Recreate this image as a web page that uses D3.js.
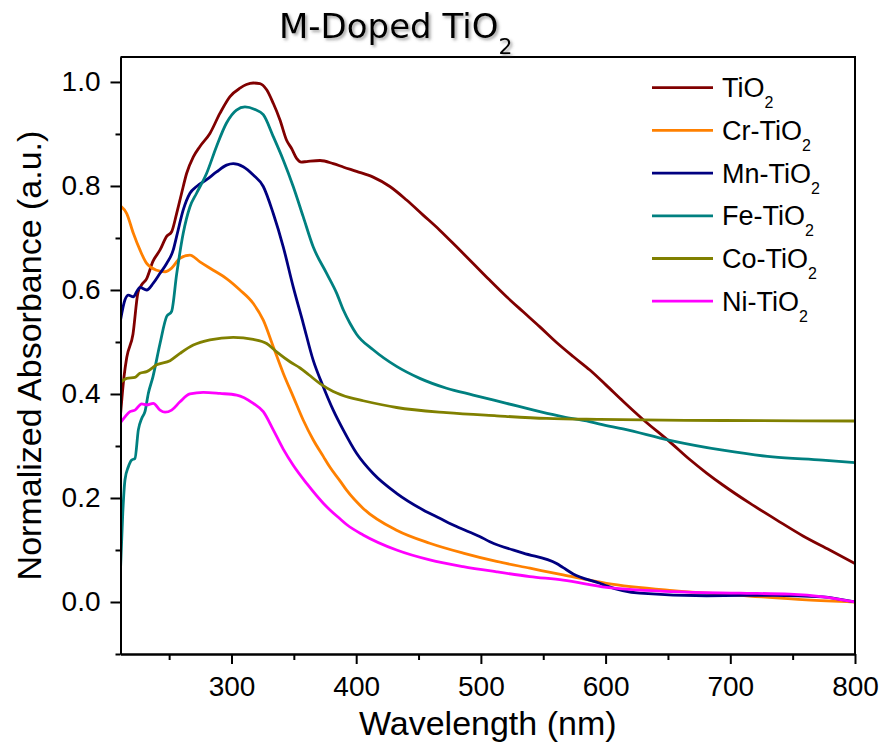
<!DOCTYPE html>
<html>
<head>
<meta charset="utf-8">
<script src="https://cdn.jsdelivr.net/npm/d3@7"></script>
<style>
  body { margin: 0; background: #fff; }
  svg { display: block; }
</style>
</head>
<body>
<svg id="chart" width="883" height="744"></svg>
<script>
// UV-Vis absorbance spectra, [wavelength (nm), normalized absorbance]
const tio2 = [[211,0.36],[213.8,0.433],[216,0.47],[221,0.515],[225,0.595],[228,0.61],[232,0.622],[237,0.655],[242.7,0.677],[248,0.703],[252,0.712],[256,0.747],[260,0.786],[264,0.824],[269.4,0.856],[274.7,0.876],[282.7,0.901],[290.8,0.94],[298.8,0.972],[306.8,0.988],[312,0.995],[317.5,0.998],[322.8,0.997],[328.2,0.985],[333.5,0.959],[338.9,0.927],[344.2,0.888],[348.2,0.872],[352.2,0.853],[356,0.846],[360.3,0.847],[371,0.849],[381.6,0.843],[390,0.836],[400.3,0.828],[413.6,0.817],[427,0.799],[440.4,0.773],[453.7,0.744],[467,0.715],[480.5,0.683],[493.8,0.651],[507,0.619],[520.6,0.587],[533.9,0.558],[547.3,0.529],[560.7,0.499],[574,0.472],[587.4,0.446],[600,0.418],[614,0.386],[630,0.351],[651.5,0.308],[667.5,0.274],[681,0.248],[694,0.225],[715.6,0.19],[737,0.158],[758.3,0.127],[779.7,0.10],[800,0.074]];
const crTio2 = [[211,0.762],[216,0.747],[221.3,0.709],[226.6,0.677],[232,0.651],[240,0.638],[246.7,0.635],[252,0.642],[258.7,0.661],[266.7,0.667],[274.7,0.654],[285.4,0.638],[296,0.622],[306.8,0.60],[317.5,0.574],[325.5,0.542],[333.5,0.491],[341.5,0.44],[349.5,0.395],[357.5,0.35],[365.5,0.312],[373.6,0.28],[379,0.259],[387,0.233],[392.3,0.215],[405.6,0.18],[432.4,0.138],[459,0.113],[485.8,0.094],[512.6,0.078],[539.3,0.065],[566,0.052],[600.7,0.036],[654,0.022],[707.6,0.013],[761,0.004],[800,0.0]];
const mnTio2 = [[211,0.542],[214.6,0.581],[217.3,0.59],[221.3,0.587],[224,0.597],[226.6,0.605],[232,0.60],[237.3,0.613],[242.7,0.632],[248,0.651],[253.3,0.677],[256,0.703],[261.3,0.754],[266.7,0.786],[272,0.799],[280,0.812],[288,0.827],[296,0.840],[301.4,0.843],[309.4,0.837],[317.5,0.821],[325.5,0.799],[333.5,0.747],[341.5,0.683],[349.5,0.606],[357.5,0.536],[365.5,0.465],[373.6,0.414],[381.6,0.369],[389.6,0.331],[400.3,0.286],[413.6,0.247],[432.4,0.209],[453.7,0.177],[467,0.161],[480.5,0.145],[499,0.126],[507.2,0.116],[534,0.094],[560.7,0.074],[566,0.066],[574,0.054],[595.4,0.036],[600.7,0.031],[627.4,0.017],[681,0.012],[734,0.013],[774,0.010],[800,0.0]];
const feTio2 = [[211,0.062],[212.8,0.17],[214.6,0.235],[217.3,0.26],[220,0.273],[222.6,0.276],[225.3,0.331],[228,0.353],[230.6,0.366],[233.3,0.401],[237,0.433],[242.7,0.497],[248,0.549],[252,0.559],[256,0.63],[261.3,0.709],[266.7,0.76],[272,0.786],[280,0.824],[288,0.876],[296,0.921],[304,0.946],[310.8,0.952],[318.8,0.947],[325.5,0.937],[333.5,0.895],[341.5,0.85],[349.5,0.799],[357.5,0.741],[365.5,0.683],[376.3,0.632],[384.3,0.594],[390,0.56],[395,0.536],[400.3,0.515],[413.6,0.485],[432.4,0.453],[451,0.430],[472.5,0.411],[493.8,0.398],[520.6,0.382],[547.3,0.366],[566,0.356],[587,0.347],[595.4,0.342],[614,0.333],[651.5,0.311],[694,0.292],[734,0.279],[774,0.273],[800,0.268]];
const coTio2 = [[211,0.422],[216,0.43],[222.6,0.432],[226.6,0.44],[232,0.443],[240,0.456],[250.7,0.464],[258.7,0.478],[269.4,0.494],[282.7,0.504],[301.4,0.509],[317.5,0.505],[328.2,0.497],[336.2,0.481],[346.9,0.462],[355,0.450],[362,0.437],[371,0.42],[381.6,0.405],[395,0.393],[405.6,0.387],[432.4,0.374],[472.5,0.364],[512.6,0.358],[552.6,0.353],[595.4,0.351],[694,0.349],[800,0.348]];
const niTio2 = [[211,0.345],[214.6,0.356],[218.6,0.366],[222.6,0.369],[228,0.381],[232,0.379],[237.3,0.382],[242.7,0.369],[246.7,0.365],[252,0.369],[258.7,0.385],[266.7,0.40],[277.4,0.403],[290.8,0.401],[304.2,0.398],[317.5,0.382],[325.5,0.366],[333.5,0.331],[341.5,0.294],[349.5,0.263],[360.3,0.228],[373.6,0.19],[379,0.177],[387,0.16],[392.3,0.149],[405.6,0.129],[432.4,0.10],[459,0.081],[485.8,0.068],[512.6,0.058],[539.3,0.049],[566,0.042],[600.7,0.028],[654,0.02],[707.6,0.017],[747.7,0.015],[774.4,0.01],[800,0.0]];

const seriesLabels = ["TiO2", "Cr-TiO2", "Mn-TiO2", "Fe-TiO2", "Co-TiO2", "Ni-TiO2"];
const seriesColors = ["#800000", "#FF8000", "#000080", "#008080", "#808000", "#FF00FF"];
const seriesData = [tio2, crTio2, mnTio2, feTio2, coTio2, niTio2];

const xMajorTicks = [300, 400, 500, 600, 700, 800];
const xMinorTicks = [250, 350, 450, 550, 650, 750];
const yMajorTicks = [0.0, 0.2, 0.4, 0.6, 0.8, 1.0];
const yMinorTicks = [-0.1, 0.1, 0.3, 0.5, 0.7, 0.9];

(function draw() {
  const svg = d3.select("#chart");
  const pLeft = 120.5, pRight = 855, pTop = 57, pBottom = 654;
  const axisFont = "'Liberation Sans', Arial, Helvetica, sans-serif";

  const x = d3.scaleLinear().domain([211, 800]).range([pLeft, pRight]);
  const y = d3.scaleLinear().domain([-0.1, 1.048]).range([pBottom, pTop]);

  // title drop shadow
  const defs = svg.append("defs");
  const f = defs.append("filter").attr("id", "shadow")
    .attr("x", "-10%").attr("y", "-30%").attr("width", "130%").attr("height", "180%");
  f.append("feDropShadow").attr("dx", 2).attr("dy", 2).attr("stdDeviation", 1.4)
    .attr("flood-color", "#555").attr("flood-opacity", 0.55);

  defs.append("clipPath").attr("id", "plotClip")
    .append("rect").attr("x", pLeft).attr("y", pTop)
    .attr("width", pRight - pLeft).attr("height", pBottom - pTop);

  // spectra
  const line = d3.line()
    .x(d => x(d[0])).y(d => y(d[1]))
    .curve(d3.curveMonotoneX);

  const plot = svg.append("g").attr("clip-path", "url(#plotClip)");
  seriesData.forEach((data, i) => {
    plot.append("path")
      .datum(data)
      .attr("d", line)
      .attr("fill", "none")
      .attr("stroke", seriesColors[i])
      .attr("stroke-width", 2.8)
      .attr("stroke-linejoin", "round")
      .attr("stroke-linecap", "round");
  });

  // frame (top and right edges)
  svg.append("path")
    .attr("d", `M${pLeft},${pTop}H${pRight}V${pBottom}`)
    .attr("fill", "none").attr("stroke", "#000").attr("stroke-width", 2);

  function styleAxis(g) {
    g.select(".domain").attr("stroke-width", 2);
    g.selectAll(".tick line").attr("stroke-width", 2);
    g.selectAll(".tick text")
      .attr("font-family", axisFont).attr("font-size", 28).attr("fill", "#000");
  }

  // y axis
  svg.append("g").attr("transform", `translate(${pLeft},0)`)
    .call(d3.axisLeft(y).tickValues(yMinorTicks).tickSize(5).tickSizeOuter(0).tickFormat(""))
    .call(styleAxis);
  svg.append("g").attr("transform", `translate(${pLeft},0)`)
    .call(d3.axisLeft(y).tickValues(yMajorTicks).tickSize(10).tickSizeOuter(0)
      .tickPadding(10).tickFormat(d3.format(".1f")))
    .call(styleAxis);

  // x axis
  svg.append("g").attr("transform", `translate(0,${pBottom})`)
    .call(d3.axisBottom(x).tickValues(xMinorTicks).tickSize(6).tickSizeOuter(0).tickFormat(""))
    .call(styleAxis);
  svg.append("g").attr("transform", `translate(0,${pBottom})`)
    .call(d3.axisBottom(x).tickValues(xMajorTicks).tickSize(10).tickSizeOuter(0)
      .tickPadding(12).tickFormat(d3.format("d")))
    .call(styleAxis);

  // axis titles
  svg.append("text")
    .attr("x", (pLeft + pRight) / 2).attr("y", 735)
    .attr("text-anchor", "middle")
    .attr("font-family", axisFont).attr("font-size", 34)
    .text("Wavelength (nm)");

  svg.append("text")
    .attr("transform", `translate(41,${(pTop + pBottom) / 2}) rotate(-90)`)
    .attr("text-anchor", "middle")
    .attr("font-family", axisFont).attr("font-size", 34)
    .text("Normalized Absorbance (a.u.)");

  // chart title
  const title = svg.append("text")
    .attr("x", 279).attr("y", 38)
    .attr("font-family", "'DejaVu Sans', Verdana, sans-serif")
    .attr("font-size", 34)
    .attr("filter", "url(#shadow)");
  title.append("tspan").text("M-Doped TiO");
  title.append("tspan").attr("dy", 16).attr("font-size", 22).text("2");

  // legend
  const legend = svg.append("g");
  seriesLabels.forEach((label, i) => {
    const ly = 87.7 + i * 42.7;
    legend.append("line")
      .attr("x1", 652).attr("x2", 713).attr("y1", ly).attr("y2", ly)
      .attr("stroke", seriesColors[i]).attr("stroke-width", 2.8);
    const t = legend.append("text")
      .attr("x", 722).attr("y", ly + 9.5)
      .attr("font-family", axisFont).attr("font-size", 27);
    t.append("tspan").text(label.slice(0, -1));
    t.append("tspan").attr("dy", 11).attr("font-size", 16).text(label.slice(-1));
  });
})();
</script>
</body>
</html>
